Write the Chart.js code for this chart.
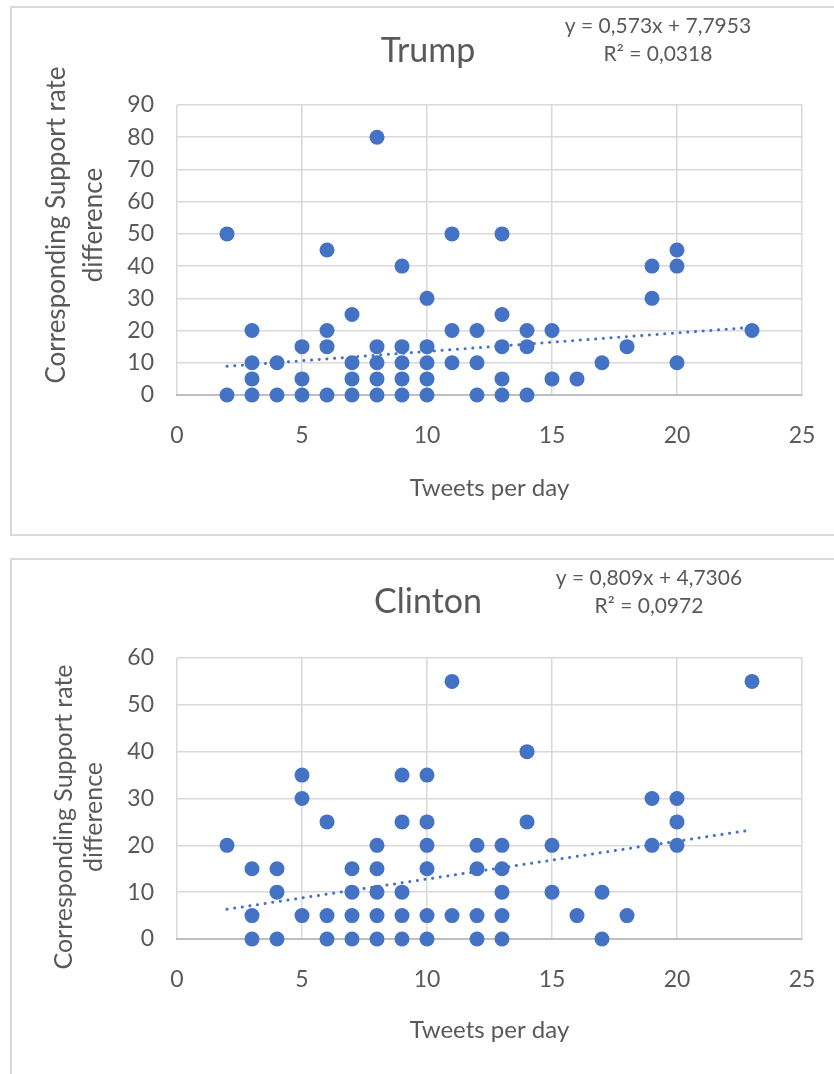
<!DOCTYPE html>
<html>
<head>
<meta charset="utf-8">
<script src="https://cdn.jsdelivr.net/npm/chart.js@4.4.1/dist/chart.umd.min.js"></script>
<style>
    html, body { margin: 0; padding: 0; background: #fff; width: 834px; height: 1074px; overflow: hidden; }
    .box { position: absolute; left: 10px; width: 836px; height: 530px; border: 2px solid #d9d9d9; box-sizing: border-box; }
    .box canvas { position: absolute; left: 0; top: 0; }
    #box1 { top: 6px; }
    #box2 { top: 558px; }
</style>
</head>
<body>
<div class="box" id="box1"><canvas id="grafico1" width="832" height="526"></canvas></div>
<div class="box" id="box2"><canvas id="grafico2" width="832" height="526"></canvas></div>
<script>
const trumpX = [2, 2, 3, 3, 3, 3, 4, 4, 5, 5, 5, 6, 6, 6, 6, 7, 7, 7, 7, 8, 8, 8, 8, 8, 9, 9, 9, 9, 9, 10, 10, 10, 10, 10, 11, 11, 11, 12, 12, 12, 13, 13, 13, 13, 13, 14, 14, 14, 15, 15, 16, 17, 18, 19, 19, 20, 20, 20, 23];
const trumpY = [50, 0, 20, 10, 5, 0, 10, 0, 15, 5, 0, 45, 20, 15, 0, 25, 10, 5, 0, 80, 15, 10, 5, 0, 40, 15, 10, 5, 0, 30, 15, 10, 5, 0, 50, 20, 10, 20, 10, 0, 50, 25, 15, 5, 0, 20, 15, 0, 20, 5, 5, 10, 15, 40, 30, 45, 40, 10, 20];
const clintonX = [2, 3, 3, 3, 4, 4, 4, 5, 5, 5, 6, 6, 6, 7, 7, 7, 7, 8, 8, 8, 8, 8, 9, 9, 9, 9, 9, 10, 10, 10, 10, 10, 10, 11, 11, 12, 12, 12, 12, 13, 13, 13, 13, 13, 14, 14, 15, 15, 16, 17, 17, 18, 19, 19, 20, 20, 20, 23];
const clintonY = [20, 15, 5, 0, 15, 10, 0, 35, 30, 5, 25, 5, 0, 15, 10, 5, 0, 20, 15, 10, 5, 0, 35, 25, 10, 5, 0, 35, 25, 20, 15, 5, 0, 55, 5, 20, 15, 5, 0, 20, 15, 10, 5, 0, 40, 25, 20, 10, 5, 10, 0, 5, 30, 20, 30, 25, 20, 55];

// linha de tendencia (pontas)
const trumpTrendX = [2, 23];
const trumpTrendY = [8.9, 21.0];
const clintonTrendX = [2, 23];
const clintonTrendY = [6.35, 23.3];

const trumpEquation = ["y = 0,573x + 7,7953", "R² = 0,0318"];
const clintonEquation = ["y = 0,809x + 4,7306", "R² = 0,0972"];
const yTitle = ["Corresponding Support rate", "difference"];
const xTitle = "Tweets per day";

const textColor = '#595959';
const pointColor = '#4472C4';

const toPoints = (xs, ys) => xs.map((x, i) => ({ x: x, y: ys[i] }));

// titulo, equacao e titulo do eixo y
const extraText = {
    id: 'extraText',
    afterDraw(chart, args, opts) {
        const ctx = chart.ctx;
        ctx.save();
        ctx.fillStyle = textColor;
        ctx.textAlign = 'center';
        ctx.textBaseline = 'middle';
        ctx.font = '34px Lato';
        ctx.fillText(opts.title, 416, opts.titleY);
        ctx.font = '21px Lato';
        opts.equation.forEach((line, i) => ctx.fillText(line, opts.eqX, opts.eqY + i * 28));
        ctx.translate(opts.yTitleX, opts.yTitleY);
        ctx.rotate(-Math.PI / 2);
        ctx.font = opts.yTitleSize + 'px Lato';
        opts.yTitle.forEach((line, i) => ctx.fillText(line, 0, i * opts.yTitleGap));
        ctx.restore();
    }
};

const createChart = (id, cfg) => {
    const ctx = document.getElementById(id);
    new Chart(ctx, {
        type: 'scatter',
        data: {
            datasets: [{
                type: 'line',
                data: toPoints(cfg.trendX, cfg.trendY),
                borderColor: pointColor,
                borderWidth: 3,
                borderDash: [0.1, 7.6],
                borderCapStyle: 'round',
                pointRadius: 0,
                fill: false,
                clip: false,
                order: 0
            }, {
                label: cfg.title,
                data: toPoints(cfg.xs, cfg.ys),
                backgroundColor: pointColor,
                borderWidth: 0,
                pointRadius: 7.5,
                pointHoverRadius: 7.5,
                clip: false,
                order: 1
            }]
        },
        options: {
            responsive: false,
            animation: false,
            layout: { padding: { left: 0, right: 42, top: cfg.top, bottom: 0 } },
            plugins: {
                legend: { display: false },
                tooltip: { enabled: false },
                title: { display: false },
                extraText: {
                    title: cfg.title,
                    titleY: cfg.titleY,
                    equation: cfg.equation,
                    eqX: cfg.eqX,
                    eqY: 18,
                    yTitle: yTitle,
                    yTitleX: cfg.yTitleX,
                    yTitleY: cfg.yTitleY,
                    yTitleGap: cfg.yTitleGap,
                    yTitleSize: cfg.yTitleSize
                }
            },
            scales: {
                x: {
                    type: 'linear',
                    min: 0,
                    max: 25,
                    ticks: { stepSize: 5, padding: 27, color: textColor, font: { family: 'Lato', size: 23 } },
                    grid: { color: '#d9d9d9', lineWidth: 1.5, drawTicks: false },
                    border: { color: '#bfbfbf', width: 2 },
                    title: {
                        display: true,
                        text: xTitle,
                        color: textColor,
                        font: { family: 'Lato', size: 24 },
                        padding: { top: 0, bottom: cfg.xTitlePad }
                    },
                    afterFit: (scale) => { scale.height = cfg.xHeight; }
                },
                y: {
                    min: 0,
                    max: cfg.yMax,
                    ticks: { stepSize: 10, padding: 23, color: textColor, font: { family: 'Lato', size: 23 } },
                    grid: { color: '#d9d9d9', lineWidth: 1.5, drawTicks: false },
                    border: { display: false },
                    afterFit: (scale) => { scale.width = 165; }
                }
            }
        },
        plugins: [extraText]
    });
}

createChart('grafico1', {
    title: 'Trump', xs: trumpX, ys: trumpY, trendX: trumpTrendX, trendY: trumpTrendY,
    equation: trumpEquation, eqX: 646, yMax: 90,
    top: 97, titleY: 43, xHeight: 139, xTitlePad: 31,
    yTitleX: 45, yTitleY: 217, yTitleGap: 37, yTitleSize: 26
});
createChart('grafico2', {
    title: 'Clinton', xs: clintonX, ys: clintonY, trendX: clintonTrendX, trendY: clintonTrendY,
    equation: clintonEquation, eqX: 637, yMax: 60,
    top: 98, titleY: 42, xHeight: 147, xTitlePad: 41,
    yTitleX: 52, yTitleY: 257, yTitleGap: 30, yTitleSize: 25
});
</script>
</body>
</html>
